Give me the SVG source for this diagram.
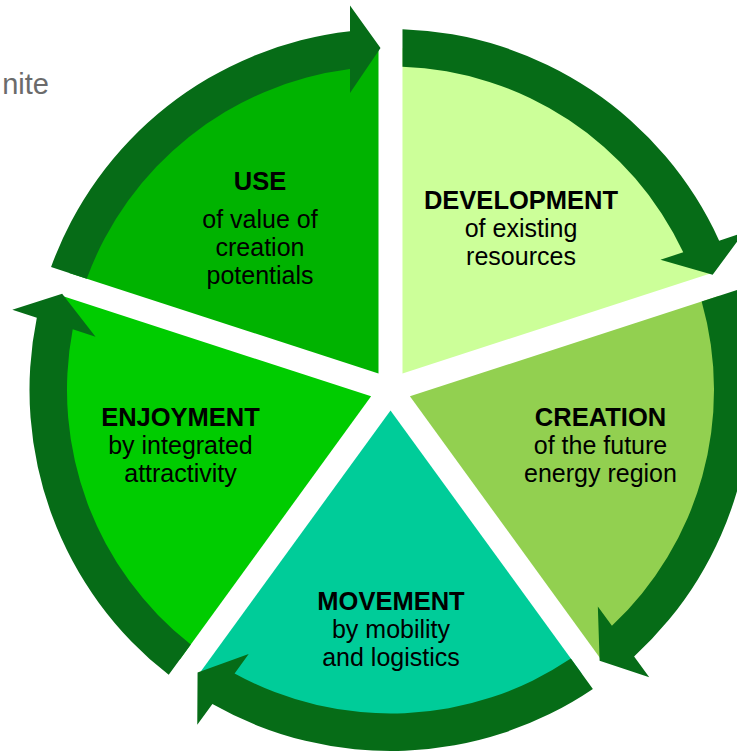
<svg xmlns="http://www.w3.org/2000/svg" width="737" height="754" viewBox="0 0 737 754">
  <style>
    .t { font-family: "Liberation Sans", Arial, sans-serif; font-size: 25px; fill: #000; text-anchor: middle; }
    .b { font-weight: bold; font-size: 25.5px; }
    .arrow { fill: #066C17; }
    .side { font-family: "Liberation Sans", Arial, sans-serif; font-size: 29px; fill: #6b6b6b; text-anchor: end; }
  </style>
  <defs>
    <!-- segment shape in local coords (origin = diagram centre), USE orientation -->
    <path id="seg" d="M -12,-16.5 L -321.37,-117.02 A 342 342 0 0 1 -12,-341.79 Z"/>
    <!-- curved arrow band with head, USE orientation -->
    <path id="arc" d="M -339.45,-122.9 A 361 361 0 0 1 -40.5,-358.72 L -40.5,-384.5 L -10,-342 L -40.5,-297 L -40.5,-320.96 A 323.5 323.5 0 0 0 -303.76,-111.3 Z"/>
  </defs>

  <text class="side" x="49" y="94">nite</text>

  <g id="node-use">
    <use href="#seg" transform="translate(390.5 390)" fill="#00B300"/>
    <text class="t b" x="260" y="190">USE</text>
    <text class="t" x="260" y="228">of value of</text>
    <text class="t" x="260" y="256">creation</text>
    <text class="t" x="260" y="284">potentials</text>
  </g>
  <g id="node-development">
    <use href="#seg" transform="translate(390.5 390) rotate(72)" fill="#CCFF99"/>
    <text class="t b" x="521" y="208.5">DEVELOPMENT</text>
    <text class="t" x="521" y="236.5">of existing</text>
    <text class="t" x="521" y="264.5">resources</text>
  </g>
  <g id="node-creation">
    <use href="#seg" transform="translate(390.5 390) rotate(144)" fill="#92D050"/>
    <text class="t b" x="600.5" y="426">CREATION</text>
    <text class="t" x="600.5" y="454">of the future</text>
    <text class="t" x="600.5" y="482">energy region</text>
  </g>
  <g id="node-movement">
    <use href="#seg" transform="translate(390.5 390) rotate(216)" fill="#00CC99"/>
    <text class="t b" x="391" y="609.5">MOVEMENT</text>
    <text class="t" x="391" y="637.5">by mobility</text>
    <text class="t" x="391" y="665.5">and logistics</text>
  </g>
  <g id="node-enjoyment">
    <use href="#seg" transform="translate(390.5 390) rotate(288)" fill="#00CC00"/>
    <text class="t b" x="180.5" y="426">ENJOYMENT</text>
    <text class="t" x="180.5" y="454">by integrated</text>
    <text class="t" x="180.5" y="482">attractivity</text>
  </g>

  <g id="connectors" class="arrow">
    <use href="#arc" transform="translate(390.5 390)"/>
    <use href="#arc" transform="translate(390.5 390) rotate(72)"/>
    <use href="#arc" transform="translate(390.5 390) rotate(144)"/>
    <use href="#arc" transform="translate(390.5 390) rotate(216)"/>
    <use href="#arc" transform="translate(390.5 390) rotate(288)"/>
  </g>
</svg>
